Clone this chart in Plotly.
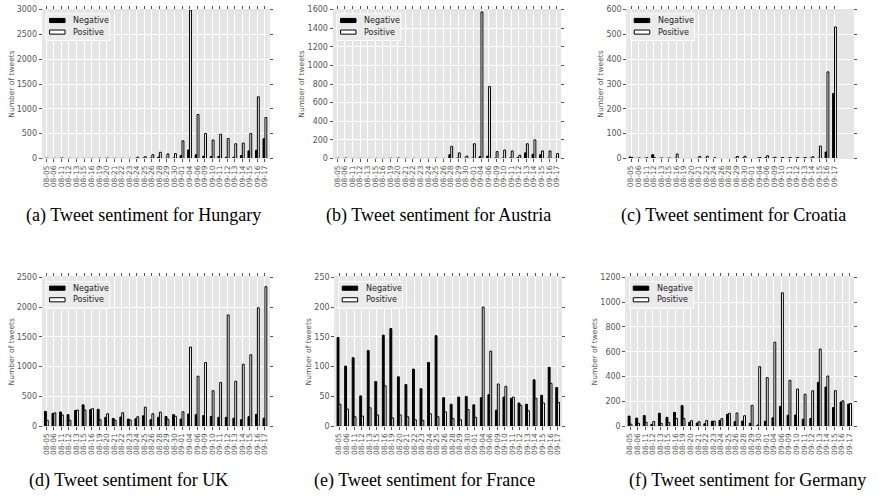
import plotly.graph_objects as go

dates30 = ["08-05", "08-06", "08-11", "08-12", "08-13", "08-15", "08-16", "08-19", "08-20", "08-21",
           "08-22", "08-23", "08-24", "08-25", "08-26", "08-28", "08-29", "08-30", "09-01", "09-04",
           "09-06", "09-09", "09-10", "09-11", "09-12", "09-13", "09-14", "09-15", "09-16", "09-17"]
dates_croatia = ["08-05", "08-06", "08-11", "08-12", "08-13", "08-15", "08-16", "08-19", "08-20", "08-21",
                 "08-22", "08-24", "08-26", "08-28", "08-29", "08-30", "09-01", "09-04", "09-06", "09-09",
                 "09-10", "09-11", "09-12", "09-13", "09-14", "09-15", "09-16", "09-17"]

hungary_neg = [2, 1, 4, 1, 1, 1, 1, 2, 3, 1, 1, 1, 3, 8, 10, 25, 5, 8, 60, 172,
               73, 46, 40, 40, 26, 26, 60, 152, 165, 397]
hungary_pos = [5, 3, 10, 4, 3, 2, 4, 6, 8, 5, 3, 4, 25, 35, 75, 125, 92, 98, 355, 2990,
               886, 502, 372, 489, 403, 297, 311, 502, 1243, 826]

austria_neg = [1, 1, 0, 0, 0, 0, 0, 1, 2, 0, 0, 0, 0, 1, 0, 40, 5, 3, 5, 20,
               25, 3, 5, 5, 10, 60, 45, 40, 3, 3]
austria_pos = [3, 4, 2, 2, 1, 2, 2, 3, 5, 2, 2, 1, 1, 3, 1, 130, 60, 25, 158, 1575,
               773, 74, 91, 81, 35, 158, 200, 81, 81, 53]

croatia_neg = [6, 1, 1, 15, 1, 1, 1, 0, 0, 1, 1, 0, 0, 0, 2, 2, 0, 2, 3, 2,
               1, 1, 1, 1, 2, 1, 26, 262]
croatia_pos = [4, 2, 3, 3, 2, 2, 18, 0, 0, 8, 9, 3, 0, 0, 8, 9, 0, 4, 11, 5,
               4, 4, 4, 4, 7, 50, 349, 530]

uk_neg = [250, 215, 240, 195, 265, 360, 280, 285, 150, 130, 155, 120, 125, 175, 110, 150, 165, 195, 120, 205,
          195, 180, 165, 150, 150, 135, 110, 160, 200, 135]
uk_pos = [100, 225, 190, 100, 272, 272, 295, 110, 210, 100, 228, 105, 160, 320, 210, 238, 118, 167, 244, 1330,
          840, 1070, 597, 735, 1868, 755, 1040, 1200, 1990, 2343]

france_neg = [149, 101, 115, 51, 127, 75, 153, 164, 83, 70, 96, 63, 107, 152, 48, 37, 49, 50, 36, 48,
              53, 27, 49, 47, 39, 37, 78, 52, 99, 65]
france_pos = [37, 29, 16, 17, 31, 19, 68, 14, 19, 16, 11, 10, 21, 16, 24, 13, 11, 28, 15, 200,
              126, 71, 67, 49, 35, 26, 47, 39, 72, 40]

germany_neg = [82, 66, 86, 15, 105, 72, 112, 167, 32, 26, 20, 41, 47, 96, 38, 42, 24, 10, 41, 68,
               160, 89, 91, 57, 63, 353, 316, 151, 196, 178]
germany_pos = [17, 24, 32, 38, 23, 30, 63, 62, 45, 37, 47, 41, 62, 104, 107, 85, 168, 480, 392, 677,
               1075, 370, 300, 258, 286, 622, 405, 287, 205, 183]

series_names = ["Negative", "Positive"]

W, H = 879, 501
BG = "#e5e5e5"

panels = [
    dict(cats=dates30, neg=hungary_neg, pos=hungary_pos, ymax=3000, dtick=500,
         px=(41.7, 268.3), py=(5.7, 157.3), cap="(a) Tweet sentiment for Hungary", cx=143, cy=215),
    dict(cats=dates30, neg=austria_neg, pos=austria_pos, ymax=1600, dtick=200,
         px=(333.3, 560.7), py=(5.7, 157.3), cap="(b) Tweet sentiment for Austria", cx=438, cy=215),
    dict(cats=dates_croatia, neg=croatia_neg, pos=croatia_pos, ymax=600, dtick=100,
         px=(627.7, 854.3), py=(5.7, 157.3), cap="(c) Tweet sentiment for Croatia", cx=734, cy=215),
    dict(cats=dates30, neg=uk_neg, pos=uk_pos, ymax=2500, dtick=500,
         px=(41.7, 268.3), py=(278.3, 430), cap="(d) Tweet sentiment for UK", cx=128, cy=485),
    dict(cats=dates30, neg=france_neg, pos=france_pos, ymax=250, dtick=50,
         px=(335, 561.7), py=(278.3, 430), cap="(e) Tweet sentiment for France", cx=424, cy=485),
    dict(cats=dates30, neg=germany_neg, pos=germany_pos, ymax=1200, dtick=200,
         px=(626.7, 854.3), py=(278.3, 430), cap="(f) Tweet sentiment for Germany", cx=748, cy=485),
]

fig = go.Figure()
layout = dict(
    width=W, height=H, margin=dict(l=0, r=0, t=0, b=0),
    paper_bgcolor="white", plot_bgcolor=BG,
    barmode="overlay", showlegend=False, annotations=[], shapes=[],
    font=dict(family="DejaVu Sans", color="#555555"),
)

for k, p in enumerate(panels):
    n = k + 1
    sfx = "" if n == 1 else str(n)
    xa, ya = "x" + sfx, "y" + sfx
    fig.add_trace(go.Bar(x=p["cats"], y=p["neg"], name=series_names[0], xaxis=xa, yaxis=ya,
                         width=0.25, offset=-0.25,
                         marker=dict(color="black", line=dict(color="black", width=1))))
    fig.add_trace(go.Bar(x=p["cats"], y=p["pos"], name=series_names[1], xaxis=xa, yaxis=ya,
                         width=0.25, offset=0.0,
                         marker=dict(color="white", line=dict(color="black", width=1))))
    x0, x1 = p["px"]
    y0, y1 = p["py"]
    pw, ph = x1 - x0, y1 - y0
    layout["xaxis" + sfx] = dict(
        domain=[x0 / W, x1 / W], anchor=ya, type="category", range=[-0.5, 29.5],
        showgrid=True, gridcolor="white", gridwidth=1, zeroline=False,
        ticks="outside", ticklen=3, tickcolor="#555555", mirror="ticks",
        showline=True, linecolor=BG, linewidth=1,
        tickangle=-90, tickfont=dict(size=7.5, color="#555555", family="DejaVu Sans"),
        tickmode="array", tickvals=p["cats"], ticktext=p["cats"],
    )
    layout["yaxis" + sfx] = dict(
        domain=[1 - y1 / H, 1 - y0 / H], anchor=xa, range=[0, p["ymax"]],
        tick0=0, dtick=p["dtick"], showgrid=True, gridcolor="white", gridwidth=1, zeroline=False,
        ticks="outside", ticklen=3, tickcolor="#555555", mirror="ticks",
        showline=True, linecolor=BG, linewidth=1,
        tickfont=dict(size=8, color="#555555", family="DejaVu Sans"),
        title=dict(text="Number of tweets", font=dict(size=7.5, color="#555555", family="DejaVu Sans"),
                   standoff=1),
    )
    # legend box drawn inside the axes (relative to axis domain)
    xd, yd = xa + " domain", ya + " domain"
    def fx(v):
        return v / pw
    def fy(v):
        return 1 - v / ph
    layout["shapes"].append(dict(type="rect", xref=xd, yref=yd,
                                 x0=fx(3.3), x1=fx(67.5), y0=fy(4.3), y1=fy(31.5),
                                 fillcolor="#ebebeb", line=dict(color="#ffffff", width=1), layer="above"))
    layout["shapes"].append(dict(type="rect", xref=xd, yref=yd,
                                 x0=fx(7), x1=fx(22.5), y0=fy(9.0), y1=fy(13.2),
                                 fillcolor="black", line=dict(color="black", width=1), layer="above"))
    layout["shapes"].append(dict(type="rect", xref=xd, yref=yd,
                                 x0=fx(7), x1=fx(22.5), y0=fy(20.8), y1=fy(25.0),
                                 fillcolor="white", line=dict(color="black", width=1), layer="above"))
    for j, (nm, yy) in enumerate(zip(series_names, [11.1, 23.1])):
        layout["annotations"].append(dict(
            text=nm, x=fx(28.5), y=fy(yy), xref=xd, yref=yd, showarrow=False,
            xanchor="left", yanchor="middle",
            font=dict(family="DejaVu Sans", size=8, color="#222222"),
        ))
    layout["annotations"].append(dict(
        text=p["cap"], x=p["cx"] / W, y=1 - p["cy"] / H, xref="paper", yref="paper",
        showarrow=False, xanchor="center", yanchor="middle",
        font=dict(family="Liberation Serif", size=18, color="black"),
    ))

fig.update_layout(**layout)
fig.write_html("out.html")
